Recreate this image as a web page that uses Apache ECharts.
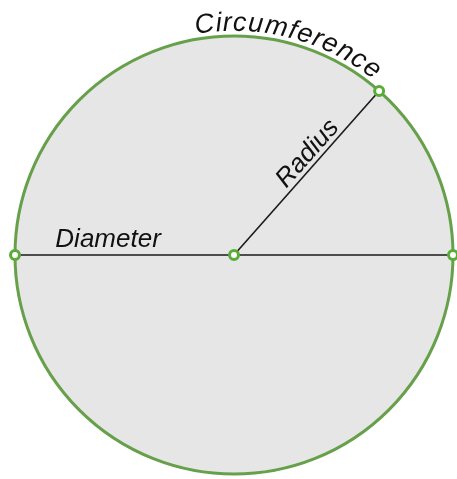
<!DOCTYPE html>
<html>
<head>
<meta charset="utf-8">
<script src="https://cdn.jsdelivr.net/npm/echarts@6/dist/echarts.min.js"></script>
<style>
html, body { margin: 0; padding: 0; background: #fff; }
#main { width: 457px; height: 479px; }
</style>
</head>
<body>
<div id="main"></div>
<script>
// circle in data units: centre and radius
var circleCenter = [0, 0];
var circleRadius = [1];
// direction of the drawn radius, degrees from +x
var radiusAngle = [48.5];
// label texts
var labelNames = ['Diameter', 'Radius', 'Circumference'];
// circumference text: start angle (deg) and radius it sits on
var circStart = [100];
var circTextR = [1.058];

(function(){
    var myChart = echarts.init(document.getElementById("main"));
    var green = '#67a04a';
    var font = 'italic 26px "Liberation Sans", Arial, sans-serif';
    var arcFont = 'italic 27px "Liberation Sans", Arial, sans-serif';
    var rad = radiusAngle[0] * Math.PI / 180;
    var R = circleRadius[0];
    var cx = circleCenter[0], cy = circleCenter[1];
    var tip = [cx + R * Math.cos(rad), cy + R * Math.sin(rad)];

    // lay the word out along the arc, one letter at a time
    var ctx = document.createElement('canvas').getContext('2d');
    ctx.font = arcFont;
    var word = labelNames[2];
    var scale = 219; // px per data unit
    var rt = circTextR[0];
    var ang = circStart[0] * Math.PI / 180;
    var chars = [];
    for (var i = 0; i < word.length; i++) {
        var w = ctx.measureText(word[i]).width * 1.12 / (rt * scale);
        var a = ang - w / 2;
        chars.push([cx + rt * Math.cos(a), cy + rt * Math.sin(a), a, word[i]]);
        ang -= w;
    }

    function textEl(api, x, y, rotation, text, f) {
        var p = api.coord([x, y]);
        return {
            type: 'text',
            x: p[0], y: p[1],
            rotation: rotation,
            style: {
                text: text,
                font: f || font,
                fill: '#111',
                textAlign: 'center',
                textVerticalAlign: 'middle'
            }
        };
    }

    option = {
        animation: false,
        grid: { left: 0, right: 0, top: 0, bottom: 0 },
        xAxis: { type: 'value', min: -234 / 219, max: 223 / 219, show: false },
        yAxis: { type: 'value', min: -224 / 219, max: 255 / 219, show: false },
        series: [
            {
                name: 'circle',
                type: 'custom',
                z: 1,
                data: [[cx, cy, R]],
                renderItem: function (params, api) {
                    var c = api.coord([api.value(0), api.value(1)]);
                    var r = api.size([api.value(2), 0])[0];
                    return {
                        type: 'circle',
                        shape: { cx: c[0], cy: c[1], r: r },
                        style: { fill: '#e6e6e6', stroke: green, lineWidth: 3 }
                    };
                }
            },
            {
                name: 'diameter',
                type: 'line',
                z: 2,
                symbol: 'none',
                lineStyle: { color: '#1a1a1a', width: 1.6 },
                data: [[cx - R, cy], [cx + R, cy]]
            },
            {
                name: 'radius',
                type: 'line',
                z: 2,
                symbol: 'none',
                lineStyle: { color: '#1a1a1a', width: 1.6 },
                data: [[cx, cy], tip]
            },
            {
                name: 'points',
                type: 'scatter',
                z: 3,
                symbol: 'circle',
                symbolSize: 9,
                itemStyle: { color: '#fff', borderColor: '#5aac38', borderWidth: 3, opacity: 1 },
                data: [[cx - R, cy], [cx, cy], [cx + R, cy], tip]
            },
            {
                name: 'labels',
                type: 'custom',
                z: 4,
                data: [0, 1],
                renderItem: function (params, api) {
                    if (params.dataIndex === 0) {
                        return textEl(api, -0.575, 0.068, 0, labelNames[0]);
                    }
                    var along = 0.57, off = 0.055;
                    var x = cx + along * Math.cos(rad) - off * Math.sin(rad);
                    var y = cy + along * Math.sin(rad) + off * Math.cos(rad);
                    return textEl(api, x, y, rad, labelNames[1]);
                }
            },
            {
                name: 'circumference',
                type: 'custom',
                z: 4,
                data: chars.map(function (c, i) { return [c[0], c[1], c[2], i]; }),
                renderItem: function (params, api) {
                    var c = chars[params.dataIndex];
                    return textEl(api, c[0], c[1], c[2] - Math.PI / 2, c[3], arcFont);
                }
            }
        ]
    };
    myChart.setOption(option);
})();
</script>
</body>
</html>
